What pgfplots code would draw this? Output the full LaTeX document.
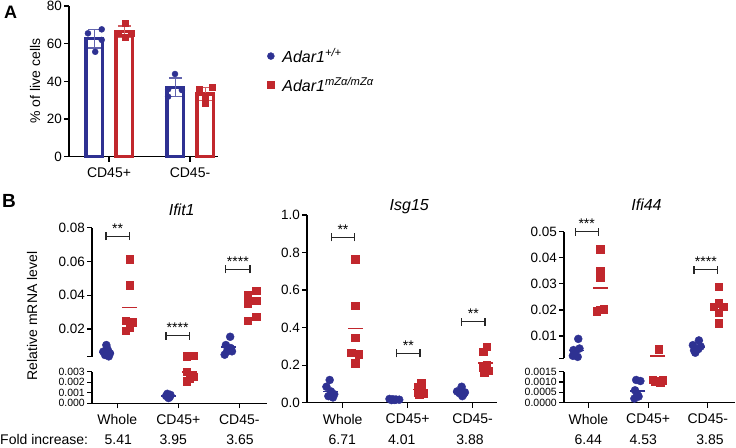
\documentclass[border=0pt]{standalone}
\usepackage{pgfplots}
\pgfplotsset{compat=1.18}
\usepackage{pgfplotstable}
\usepackage{fontspec}
\setmainfont{Liberation Sans}
\definecolor{gpblue}{RGB}{46,49,146}
\definecolor{gpred}{RGB}{193,39,45}
\newcommand\fs[1]{\fontsize{#1}{#1}\selectfont}
\newcommand\bracket[5]{%
  \draw[line width=1.1pt, black!85] ([yshift=-4pt]axis cs:#1,#3) -- ([yshift=4pt]axis cs:#1,#3)
     (axis cs:#1,#3) -- (axis cs:#2,#3)
     ([yshift=-4pt]axis cs:#2,#3) -- ([yshift=4pt]axis cs:#2,#3);
  \node[anchor=base, font=\fs{14}, inner sep=0pt] at ([yshift=3pt]axis cs:#4,#3) {#5};}

\pgfplotsset{
  gpbase/.style={scale only axis, clip=false,
    axis line style={line width=1.2pt,-,black},
    tick style={line width=1.2pt, black},
    major tick length=5pt, tick align=outside,
    scaled y ticks=false, scaled x ticks=false,
    /pgf/number format/assume math mode=true,
    yticklabel style={font=\fs{13.5}, inner sep=2pt},
    xticklabel style={font=\fs{14}, inner sep=2pt, yshift=-4pt},
  },
  bpt/.style={only marks, mark=*, mark size=4pt, gpblue},
  rpt/.style={only marks, mark=square*, mark size=3.7pt, gpred},
  bmean/.style={only marks, mark=-, mark size=7.5pt, mark options={line width=1.6pt}, gpblue},
  rmean/.style={only marks, mark=-, mark size=7.5pt, mark options={line width=1.6pt}, gpred},
}

% ---------------- Ifit1 ----------------
\pgfplotstableread{
x y
-0.18 0.0105
-0.23 0.0066
-0.12 0.0056
-0.20 0.0046
-0.14 0.0038
-0.16 0.0080
0.82 0.0009
0.87 0.0008
0.80 0.0007
0.86 0.0006
0.83 0.0006
0.84 0.0005
1.85 0.0154
1.78 0.0105
1.86 0.0087
1.80 0.0068
1.88 0.0068
1.76 0.0048
}\IfitBlue
\pgfplotstableread{
x y
0.20 0.0614
0.20 0.0460
0.14 0.0250
0.25 0.0240
0.20 0.0210
0.14 0.0190
1.14 0.0040
1.25 0.0041
1.14 0.0030
1.25 0.0025
1.19 0.0024
1.14 0.0021
2.14 0.0401
2.28 0.0427
2.14 0.0352
2.28 0.0367
2.14 0.0249
2.28 0.0273
}\IfitRed
\pgfplotstableread{
x y
-0.18 0.0060
0.84 0.0007
1.82 0.0092
}\IfitBlueMean
\pgfplotstableread{
x y
0.20 0.0328
1.19 0.0030
2.21 0.0345
}\IfitRedMean

% ---------------- Isg15 ----------------
\pgfplotstableread{
x y
-0.20 0.121
-0.25 0.085
-0.18 0.060
-0.13 0.045
-0.22 0.035
-0.15 0.028
0.72 0.020
0.77 0.018
0.82 0.017
0.87 0.016
0.80 0.015
0.75 0.014
1.83 0.085
1.76 0.060
1.88 0.055
1.80 0.050
1.86 0.045
1.84 0.035
}\IsgBlue
\pgfplotstableread{
x y
0.19 0.765
0.19 0.517
0.19 0.346
0.13 0.268
0.25 0.258
0.19 0.210
1.21 0.107
1.15 0.085
1.22 0.070
1.16 0.055
1.24 0.050
1.18 0.045
2.22 0.298
2.16 0.272
2.22 0.200
2.16 0.185
2.24 0.170
2.18 0.160
}\IsgRed
\pgfplotstableread{
x y
-0.19 0.059
0.80 0.017
1.82 0.055
}\IsgBlueMean
\pgfplotstableread{
x y
0.19 0.396
1.19 0.070
2.20 0.210
}\IsgRedMean

% ---------------- Ifi44 ----------------
\pgfplotstableread{
x y
-0.17 0.0089
-0.25 0.0046
-0.15 0.0052
-0.22 0.0040
-0.26 0.0024
-0.18 0.0020
0.80 0.00110
0.87 0.00105
0.78 0.00060
0.82 0.00040
0.77 0.00020
0.84 0.00030
1.85 0.0083
1.75 0.0065
1.88 0.0060
1.77 0.0045
1.84 0.0050
1.79 0.0036
}\IfiBlue
\pgfplotstableread{
x y
0.20 0.0433
0.20 0.0351
0.20 0.0325
0.14 0.0195
0.26 0.0203
0.20 0.0200
1.18 0.0049
1.08 0.00110
1.18 0.00105
1.24 0.00108
1.12 0.00102
1.20 0.00100
2.18 0.0288
2.18 0.0226
2.10 0.0213
2.26 0.0213
2.18 0.0190
2.18 0.0149
}\IfiRed
\pgfplotstableread{
x y
-0.20 0.0045
0.83 0.00058
1.82 0.0057
}\IfiBlueMean
\pgfplotstableread{
x y
0.20 0.0285
1.16 0.0024
2.18 0.0212
}\IfiRedMean

\begin{document}
\begin{tikzpicture}
\path[use as bounding box] (0pt,0pt) rectangle (736pt,-447pt);

% ================= Panel A =================
\begin{axis}[gpbase, at={(69pt,-156.7pt)}, anchor=south west,
  width=149pt, height=150.7pt,
  xmin=-0.494, xmax=1.346, ymin=0, ymax=80,
  axis x line*=bottom, axis y line*=left,
  ytick={0,20,40,60,80}, xtick={0,1}, xticklabels={CD45+,CD45-},
  legend style={at={(1.33,0.735)}, anchor=north west, draw=none, fill=none,
    font=\fs{16}\itshape, row sep=9pt, column sep=6pt, inner sep=0pt},
  legend cell align=left]
\addplot[ybar, bar width=16.5pt, bar shift=0pt, draw=gpblue, line width=3.5pt, fill=white, forget plot,
  error bars/.cd, y dir=both, y explicit,
  error bar style={line width=1.2pt, gpblue!75},
  error mark options={rotate=90, line width=1.2pt, mark size=6.5pt, gpblue!75}]
  coordinates {(-0.18,62.7) +- (0,5.0) (0.82,36.8) +- (0,5.0)};
\addplot[ybar, bar width=16.5pt, bar shift=0pt, draw=gpred, line width=3.5pt, fill=white, forget plot,
  error bars/.cd, y dir=both, y explicit,
  error bar style={line width=1.2pt, gpred!75},
  error mark options={rotate=90, line width=1.2pt, mark size=6.5pt, gpred!75}]
  coordinates {(0.19,66.4) +- (0,3.0) (1.19,33.2) +- (0,3.5)};
\addplot[only marks, mark=*, mark size=3pt, gpblue, forget plot] coordinates {
  (-0.26,65.5) (-0.09,67.6) (-0.09,62.0) (-0.17,55.7)
  (0.815,43.9) (0.73,35.8) (0.90,35.4) (0.73,31.9)};
\addplot[only marks, mark=square*, mark size=3pt, gpred, forget plot] coordinates {
  (0.20,70.8) (0.115,65.5) (0.28,65.5) (0.20,63.7)
  (1.27,36.8) (1.115,35.8) (1.185,31.9) (1.185,28.3)};
\addlegendimage{only marks, mark=*, mark size=3.5pt, gpblue}
\addlegendentry{Adar1\textsuperscript{+/+}}
\addlegendimage{only marks, mark=square*, mark size=3.3pt, gpred}
\addlegendentry{Adar1\textsuperscript{mZα/mZα}}
\end{axis}

% ================= Ifit1 =================
\begin{axis}[gpbase, at={(92pt,-356.7pt)}, anchor=south west,
  width=175pt, height=129pt,
  xmin=-0.415, xmax=2.454, ymin=0.0036, ymax=0.08,
  axis y line*=left, axis x line=none, xtick=\empty,
  ytick={0.0036,0.02,0.04,0.06,0.08}, yticklabels={,0.02,0.04,0.06,0.08},
  restrict y to domain=0.0033:1]
\addplot[bpt] table {\IfitBlue};
\addplot[rpt] table {\IfitRed};
\addplot[bmean] table {\IfitBlueMean};
\addplot[rmean] table {\IfitRedMean};
\bracket{-0.186}{0.197}{0.075}{0.0055}{**}
\bracket{0.798}{1.18}{0.0159}{0.989}{****}
\bracket{1.777}{2.175}{0.0553}{1.976}{****}
\end{axis}
\begin{axis}[gpbase, at={(92pt,-403.3pt)}, anchor=south west,
  width=175pt, height=31.6pt,
  xmin=-0.415, xmax=2.454, ymin=0, ymax=0.003,
  axis y line*=left, axis x line*=bottom,
  ytick={0,0.001,0.002,0.003}, yticklabels={0.000,0.001,0.002,0.003},
  yticklabel style={font=\fs{10.5}, inner sep=2pt},
  xtick={0,1,2}, xticklabels={Whole,CD45+,CD45-},
  restrict y to domain=-1:0.0032]
\addplot[bpt] table {\IfitBlue};
\addplot[rpt] table {\IfitRed};
\addplot[bmean] table {\IfitBlueMean};
\addplot[rmean] table {\IfitRedMean};
\end{axis}

% ================= Isg15 =================
\begin{axis}[gpbase, at={(307pt,-402.7pt)}, anchor=south west,
  width=190pt, height=187.7pt,
  xmin=-0.549, xmax=2.374, ymin=0, ymax=1,
  axis y line*=left, axis x line*=bottom,
  ytick={0,0.2,0.4,0.6,0.8,1.0}, yticklabels={0.0,0.2,0.4,0.6,0.8,1.0},
  xtick={0,1,2}, xticklabels={Whole,CD45+,CD45-}]
\addplot[bpt] table {\IsgBlue};
\addplot[rpt] table {\IsgRed};
\addplot[bmean] table {\IsgBlueMean};
\addplot[rmean] table {\IsgRedMean};
\bracket{-0.169}{0.178}{0.881}{0.0045}{**}
\bracket{0.831}{1.189}{0.263}{1.01}{**}
\bracket{1.831}{2.189}{0.432}{2.01}{**}
\end{axis}

% ================= Ifi44 =================
\begin{axis}[gpbase, at={(564pt,-358.3pt)}, anchor=south west,
  width=171pt, height=126.6pt,
  xmin=-0.409, xmax=2.455, ymin=0.00145, ymax=0.05,
  axis y line*=left, axis x line=none, xtick=\empty,
  ytick={0.00145,0.01,0.02,0.03,0.04,0.05}, yticklabels={,0.01,0.02,0.03,0.04,0.05},
  restrict y to domain=0.0017:1]
\addplot[bpt] table {\IfiBlue};
\addplot[rpt] table {\IfiRed};
\addplot[bmean] table {\IfiBlueMean};
\addplot[rmean] table {\IfiRedMean};
\bracket{-0.224}{0.166}{0.05}{-0.029}{***}
\bracket{1.769}{2.166}{0.0355}{1.967}{****}
\end{axis}
\begin{axis}[gpbase, at={(564pt,-402.7pt)}, anchor=south west,
  width=171pt, height=31pt,
  xmin=-0.409, xmax=2.455, ymin=0, ymax=0.0015,
  axis y line*=left, axis x line*=bottom,
  ytick={0,0.0005,0.001,0.0015}, yticklabels={0.0000,0.0005,0.0010,0.0015},
  yticklabel style={font=\fs{10.5}, inner sep=2pt},
  xtick={0,1,2}, xticklabels={Whole,CD45+,CD45-},
  restrict y to domain=-1:0.0016]
\addplot[bpt] table {\IfiBlue};
\addplot[rpt] table {\IfiRed};
\addplot[bmean] table {\IfiBlueMean};
\addplot[rmean] table {\IfiRedMean};
\end{axis}

% ================= Text =================
\node[anchor=base west, font=\fs{18}\bfseries, inner sep=0pt] at (4pt,-18pt) {A};
\node[anchor=base west, font=\fs{19}\bfseries, inner sep=0pt] at (2pt,-207pt) {B};
\node[rotate=90, font=\fs{14}, inner sep=0pt] at (35pt,-81pt) {\% of live cells};
\node[rotate=90, font=\fs{14}, inner sep=0pt] at (32pt,-316pt) {Relative mRNA level};
\node[anchor=base, font=\fs{16}\itshape, inner sep=0pt] at (181.7pt,-215pt) {Ifit1};
\node[anchor=base, font=\fs{16}\itshape, inner sep=0pt] at (409.3pt,-210pt) {Isg15};
\node[anchor=base, font=\fs{16}\itshape, inner sep=0pt] at (646.5pt,-210pt) {Ifi44};
\node[anchor=base west, font=\fs{14}, inner sep=0pt] at (0pt,-444pt) {Fold increase:};
\foreach \xx/\tt in {118.3/5.41, 173.3/3.95, 240/3.65, 342.3/6.71, 401.7/4.01, 470/3.88, 588.3/6.44, 643.3/4.53, 710/3.85}
  \node[anchor=base, font=\fs{14}, inner sep=0pt] at (\xx pt,-444pt) {\tt};
\end{tikzpicture}
\end{document}
